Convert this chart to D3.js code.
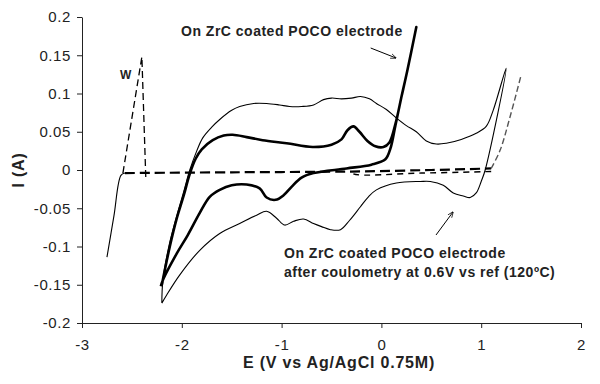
<!DOCTYPE html>
<html>
<head>
<meta charset="utf-8">
<script src="https://cdn.jsdelivr.net/npm/d3@7"></script>
<style>
  body { margin: 0; background: #fff; }
  svg { display: block; font-family: Arial, "Liberation Sans", sans-serif; }
  .tick text { font-size: 15px; fill: #222; }
  .domain, .tick line { stroke: #222; }
</style>
</head>
<body>
<svg id="chart"></svg>
<script>
// cyclic voltammograms, [E (V), I (A)]
const zrcCycle = [
  [-2.20,-0.150],[-2.12,-0.100],[-2.05,-0.063],[-1.98,-0.033],[-1.92,-0.005],[-1.86,0.015],
  [-1.80,0.027],[-1.69,0.039],[-1.58,0.045],[-1.49,0.046],[-1.35,0.043],[-1.19,0.039],
  [-0.95,0.035],[-0.69,0.030],[-0.50,0.033],[-0.40,0.040],[-0.34,0.052],[-0.28,0.057],
  [-0.22,0.050],[-0.14,0.038],[-0.06,0.031],[0.02,0.030],[0.08,0.036],[0.14,0.060],
  [0.20,0.095],[0.26,0.130],[0.35,0.187],
  [0.26,0.130],[0.20,0.095],[0.14,0.058],[0.09,0.028],[0.04,0.014],[-0.10,0.007],
  [-0.35,0.002],[-0.68,-0.004],[-0.80,-0.010],[-0.90,-0.022],[-0.98,-0.033],[-1.06,-0.039],
  [-1.15,-0.036],[-1.22,-0.024],[-1.35,-0.019],[-1.50,-0.020],[-1.62,-0.026],[-1.72,-0.035],
  [-1.82,-0.056],[-1.94,-0.085],[-2.05,-0.109],[-2.19,-0.144],[-2.21,-0.152]
];

const afterCoulometry = [
  [-2.20,-0.174],[-2.19,-0.145],[-2.13,-0.100],[-2.05,-0.060],[-1.98,-0.028],[-1.92,0.000],
  [-1.85,0.025],[-1.79,0.042],[-1.70,0.056],[-1.62,0.066],[-1.50,0.078],[-1.42,0.083],
  [-1.28,0.087],[-1.15,0.087],[-1.02,0.085],[-0.92,0.083],[-0.80,0.083],[-0.68,0.085],
  [-0.58,0.092],[-0.50,0.094],[-0.40,0.093],[-0.30,0.094],[-0.21,0.096],[-0.12,0.093],
  [-0.05,0.087],[0.05,0.079],[0.15,0.068],[0.25,0.058],[0.35,0.050],[0.45,0.038],
  [0.55,0.034],[0.65,0.035],[0.80,0.040],[0.95,0.048],[1.05,0.057],[1.12,0.078],[1.25,0.133],
  [1.04,0.000],[1.00,-0.015],[0.95,-0.030],[0.89,-0.036],[0.82,-0.034],[0.72,-0.030],
  [0.62,-0.020],[0.49,-0.015],[0.39,-0.015],[0.15,-0.017],[-0.05,-0.026],[-0.13,-0.035],
  [-0.21,-0.048],[-0.32,-0.066],[-0.41,-0.078],[-0.51,-0.078],[-0.60,-0.074],[-0.68,-0.070],
  [-0.78,-0.064],[-0.88,-0.067],[-0.97,-0.072],[-1.05,-0.063],[-1.15,-0.054],[-1.25,-0.059],
  [-1.42,-0.070],[-1.62,-0.083],[-1.82,-0.105],[-2.02,-0.137],[-2.15,-0.163],[-2.20,-0.174]
];

// tungsten electrode run (dashed)
const wLead = [[-2.75,-0.114],[-2.68,-0.060],[-2.61,-0.007],[-2.57,-0.004]];
const wPeak = [[-2.59,-0.004],[-2.40,0.148],[-2.36,-0.013]];
const wBase = [[-2.57,-0.004],[-1.50,-0.003],[-0.30,-0.002],[0.50,0.000],[1.10,0.002]];
const wReturn = [[1.10,-0.002],[0.40,-0.004],[-0.28,-0.005],[-0.31,-0.001]];
const wRise = [[1.10,0.002],[1.19,0.026],[1.29,0.070],[1.40,0.124]];

const xTicks = [-3, -2, -1, 0, 1, 2];
const yTicks = [-0.2, -0.15, -0.1, -0.05, 0, 0.05, 0.1, 0.15, 0.2];

const w = 600, h = 384;
const margin = {top: 17, right: 19, bottom: 61, left: 82};

const svg = d3.select('#chart')
  .attr('width', w)
  .attr('height', h);

const x = d3.scaleLinear().domain([-3, 2]).range([margin.left, w - margin.right]);
const y = d3.scaleLinear().domain([-0.2, 0.2]).range([h - margin.bottom, margin.top]);

const fmt = d => String(+d.toFixed(2));

svg.append('g')
  .attr('transform', `translate(0,${h - margin.bottom})`)
  .call(d3.axisBottom(x).tickValues(xTicks).tickFormat(fmt).tickSize(5).tickPadding(11).tickSizeOuter(0));

svg.append('g')
  .attr('transform', `translate(${margin.left},0)`)
  .call(d3.axisLeft(y).tickValues(yTicks).tickFormat(fmt).tickSize(5).tickPadding(6).tickSizeOuter(0));

svg.selectAll('.tick text').attr('letter-spacing', '0.6px');

const line = d3.line()
  .x(d => x(d[0]))
  .y(d => y(d[1]))
  .curve(d3.curveCatmullRom.alpha(0.5));

const straight = d3.line()
  .x(d => x(d[0]))
  .y(d => y(d[1]));

function draw(data, gen, width, dash, color) {
  svg.append('path')
    .datum(data)
    .attr('d', gen)
    .attr('fill', 'none')
    .attr('stroke', color || '#000')
    .attr('stroke-width', width)
    .attr('stroke-linejoin', 'round')
    .attr('stroke-dasharray', dash || null);
}

draw(wLead, line, 1.1);
draw(wPeak, straight, 1.3, '7,4');
draw(wBase, line, 2.2, '10,5');
draw(wReturn, line, 1.4, '6,5');
draw(wRise, line, 1.4, '6,3', '#555');
draw(afterCoulometry, line, 1.1);
draw(zrcCycle, line, 2.6);

// labels
const bold = (tx, ty, s, size, ls) => svg.append('text')
  .attr('x', tx).attr('y', ty)
  .attr('font-size', size).attr('font-weight', 'bold').attr('fill', '#222')
  .attr('letter-spacing', ls || 0)
  .text(s);

bold(181, 36, 'On ZrC coated POCO electrode', 14, '0.5px');
bold(284, 258, 'On ZrC coated POCO electrode', 14, '0.5px');
bold(284, 277, 'after coulometry at 0.6V vs ref (120ºC)', 14, '0.5px');
bold(120, 79, 'W', 12);

svg.append('text')
  .attr('x', 339)
  .attr('y', 368)
  .attr('text-anchor', 'middle')
  .attr('font-size', 16).attr('font-weight', 'bold').attr('fill', '#222')
  .attr('letter-spacing', '0.8px')
  .text('E (V vs Ag/AgCl 0.75M)');

svg.append('text')
  .attr('transform', `translate(24,${(margin.top + h - margin.bottom) / 2}) rotate(-90)`)
  .attr('text-anchor', 'middle')
  .attr('font-size', 16).attr('font-weight', 'bold').attr('fill', '#222')
  .attr('letter-spacing', '0.8px')
  .text('I (A)');

// arrows
const defs = svg.append('defs');
defs.append('marker')
  .attr('id', 'head')
  .attr('viewBox', '0 0 10 10')
  .attr('refX', 9).attr('refY', 5)
  .attr('markerWidth', 6).attr('markerHeight', 6)
  .attr('orient', 'auto')
  .append('path')
  .attr('d', 'M0,1 L10,5 L0,9')
  .attr('fill', 'none')
  .attr('stroke', '#000')
  .attr('stroke-width', 1.2);

[[370.7, 48, 396, 58], [436, 235, 453, 212]].forEach(a => {
  svg.append('line')
    .attr('x1', a[0]).attr('y1', a[1]).attr('x2', a[2]).attr('y2', a[3])
    .attr('stroke', '#000').attr('stroke-width', 1)
    .attr('marker-end', 'url(#head)');
});
</script>
</body>
</html>
